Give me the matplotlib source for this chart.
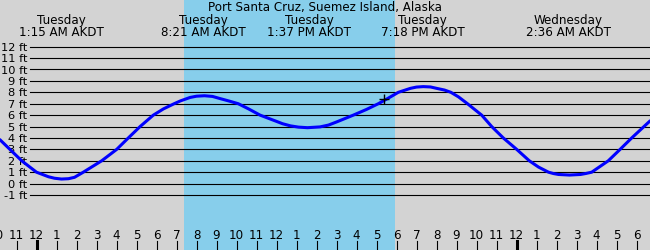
"""Tide chart for Port Santa Cruz, Suemez Island, Alaska (Tuesday into Wednesday)."""

import matplotlib

matplotlib.use("Agg")
import matplotlib.pyplot as plt
import matplotlib.transforms as mtransforms

# hours counted from Tuesday 00:00 AKDT, heights in feet
tide_hours = [
    -1.83, -1.33, -0.74, 0.0, 0.3, 0.6, 0.9, 1.25, 1.6, 1.9, 2.34, 3.26, 4.01,
    4.59, 5.18, 5.84, 6.35, 6.88, 7.2, 7.68, 8.0, 8.4, 8.8, 9.18, 9.6, 10.09,
    10.6, 11.18, 11.93, 12.3, 12.7, 13.1, 13.55, 14.18, 14.6, 15.0, 15.84,
    16.5, 17.09, 17.6, 18.09, 18.7, 19.0, 19.34, 19.7, 20.0, 20.4, 20.72,
    21.1, 21.55, 22.26, 22.76, 23.34, 24.01, 24.64, 25.1, 25.6, 25.85, 26.1,
    26.65, 27.2, 27.45, 27.76, 28.59, 29.18, 29.76, 30.68,
]
tide_feet = [
    3.85, 3.0, 2.0, 1.0, 0.8, 0.6, 0.47, 0.4, 0.43, 0.55, 1.0, 2.0, 3.0,
    4.0, 5.0, 6.0, 6.55, 7.0, 7.25, 7.55, 7.66, 7.7, 7.64, 7.45, 7.25, 7.0,
    6.55, 6.0, 5.5, 5.25, 5.06, 4.95, 4.9, 4.97, 5.13, 5.4, 6.0,
    6.5, 7.0, 7.5, 8.0, 8.35, 8.46, 8.5, 8.47, 8.35, 8.2, 8.0,
    7.6, 7.0, 6.0, 5.0, 4.0, 3.0, 2.0, 1.45, 1.0, 0.88, 0.8,
    0.75, 0.8, 0.88, 1.0, 2.0, 3.0, 4.0, 5.5,
]

event_hours = [1.25, 8.35, 13.62, 19.3, 26.6]
event_days = ["Tuesday", "Tuesday", "Tuesday", "Tuesday", "Wednesday"]
event_times = ["1:15 AM AKDT", "8:21 AM AKDT", "1:37 PM AKDT", "7:18 PM AKDT",
               "2:36 AM AKDT"]

daylight = (7.36, 17.93)
now_hour, now_feet = 17.375, 7.39

grid_feet = list(range(-1, 13))
tick_hours = list(range(-2, 31))

TITLE = "Port Santa Cruz, Suemez Island, Alaska"
BG = "#d3d3d3"
SKY = "#87ceeb"
W, H = 650, 250
FS = 8.6
FS_FEET = 8.2


def hour_label(h):
    h12 = h % 12
    return str(12 if h12 == 0 else h12)


def main():
    fig = plt.figure(figsize=(6.5, 2.5), dpi=100, facecolor=BG)
    ax = fig.add_axes([0, 0, 1, 1])
    ax.set_facecolor(BG)
    # 20 px per hour, midnight at x=36.5; 11.41 px per foot, 0 ft at y=183.6
    ax.set_xlim((0 - 36.5) / 20, (W - 36.5) / 20)
    ax.set_ylim(-(H - 183.6) / 11.41, 183.6 / 11.41)
    ax.axis("off")

    ax.axvspan(*daylight, color=SKY, lw=0, zorder=0)

    ytrans = mtransforms.blended_transform_factory(ax.transAxes, ax.transData)
    xtrans = mtransforms.blended_transform_factory(ax.transData, ax.transAxes)

    for ft in grid_feet:
        ax.axhline(ft, xmin=29.5 / W, xmax=1, color="black", lw=0.8, zorder=1)
        ax.annotate(f"{ft} ft", xy=(27.5 / W, ft), xycoords=ytrans,
                    xytext=(0, -4), textcoords="offset pixels",
                    ha="right", va="baseline", fontsize=FS_FEET)

    ax.plot(tide_hours, tide_feet, color="#0000ff", lw=2.2,
            solid_capstyle="round", solid_joinstyle="round", zorder=3)
    ax.plot(now_hour, now_feet, marker="+", ms=6.5, mew=1.0, color="black",
            zorder=4)

    for h in tick_hours:
        midnight = h % 24 == 0
        ax.axvline(h, ymin=0, ymax=9 / H, color="black",
                   lw=2.2 if midnight else 0.8, zorder=2)
        ax.text(h, (H - 239.3) / H, hour_label(h), transform=xtrans,
                ha="center", va="baseline", fontsize=FS)

    for h, day, t in zip(event_hours, event_days, event_times):
        ax.text(h, (H - 24) / H, day, transform=xtrans, ha="center",
                va="baseline", fontsize=FS)
        ax.text(h, (H - 36) / H, t, transform=xtrans, ha="center",
                va="baseline", fontsize=FS)

    ax.text(0.5, (H - 11.5) / H, TITLE, transform=ax.transAxes, ha="center",
            va="baseline", fontsize=FS)

    fig.savefig("out.png", dpi=100, facecolor=BG)
    plt.close(fig)


if __name__ == "__main__":
    main()
